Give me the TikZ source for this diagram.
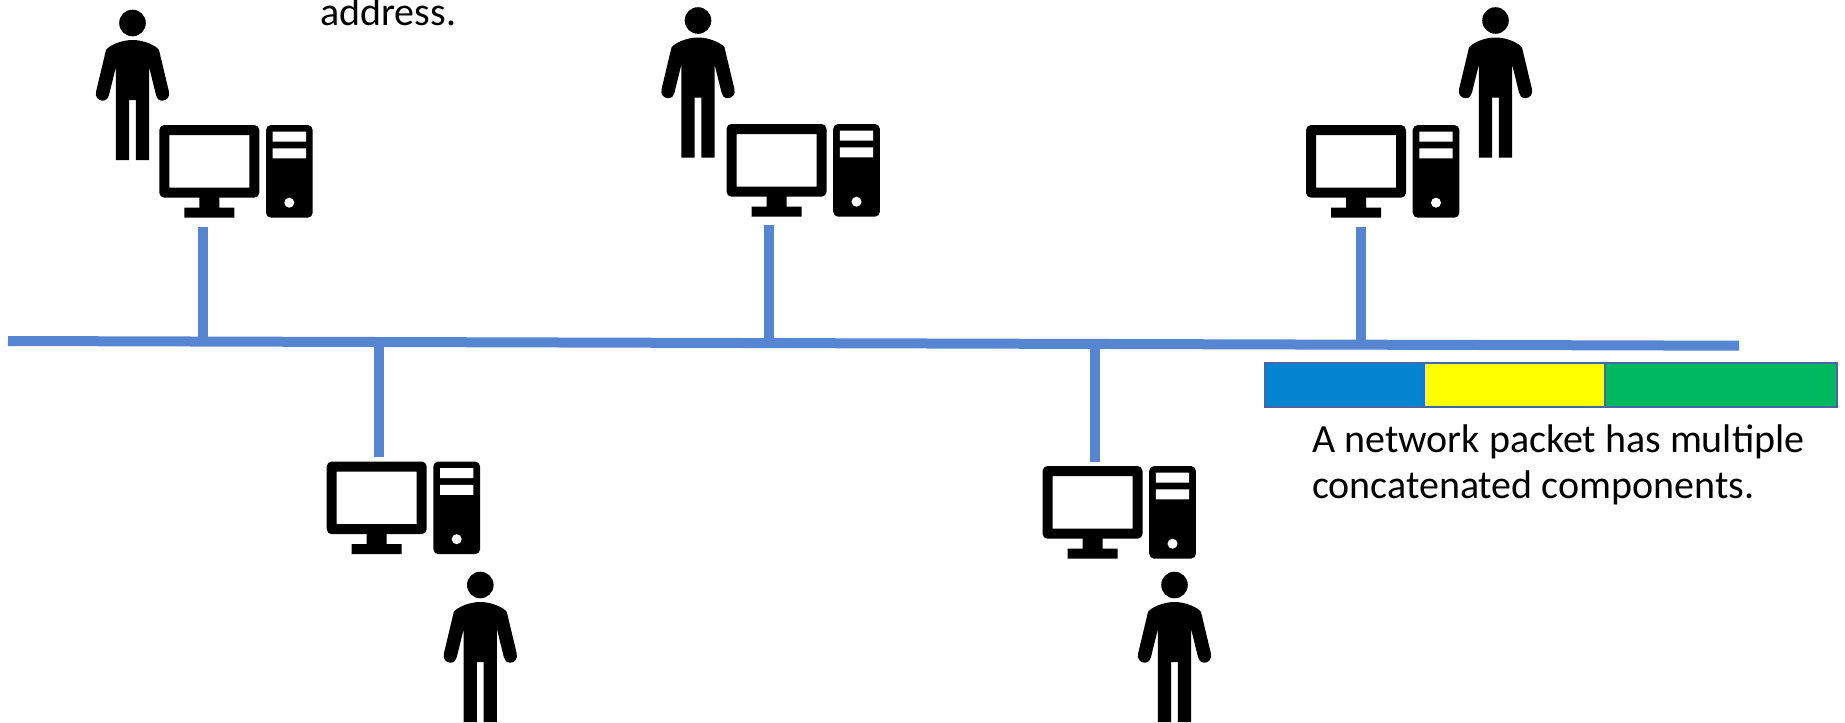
\documentclass[tikz,border=0pt]{standalone}
\usepackage{fontspec}
\setmainfont{Carlito}
\definecolor{wire}{HTML}{5686D1}
\definecolor{pktblue}{HTML}{0383D0}
\definecolor{pktyellow}{RGB}{255,255,0}
\definecolor{pktgreen}{HTML}{00B85F}
\definecolor{pktedge}{HTML}{4468A6}
\tikzset{
  wireline/.style={draw=wire,line width=10pt},
  cell/.style={draw=pktedge,line width=2.5pt,minimum height=44pt,inner sep=0pt,outer sep=0pt,anchor=north west},
  caption/.style={font=\fontsize{40}{46}\selectfont,align=left,inner sep=0pt,text=black},
  person/.pic={
    \fill[black] (0,0) circle (13.3);
    \fill[black] (-26.5,27) .. controls (-24,23) and (-12,17) .. (0,17)
      .. controls (12,17) and (24,23) .. (26.5,27)
      -- (36.3,68)
      .. controls (38,74) and (34,77.7) .. (30,77.7)
      .. controls (26,77.7) and (24,75) .. (23.5,72)
      -- (16.6,44) -- (16.6,137) -- (3.4,137) -- (3.4,77) -- (-3.4,77) -- (-3.4,137) -- (-16.6,137) -- (-16.6,44)
      -- (-23.5,72) .. controls (-24,75) and (-26,77.7) .. (-30,77.7)
      .. controls (-34,77.7) and (-38,74) .. (-36.3,68)
      -- cycle;
  },
  computer/.pic={
    \fill[black,even odd rule,rounded corners=5pt] (0,0) rectangle (100,72.7) (10,10) [sharp corners] rectangle (90,62.7);
    \fill[black] (40,72) rectangle (60,82.7) (25,82.7) rectangle (75,92.7);
    \fill[black,rounded corners=5pt] (106.7,0) rectangle (153.4,92.7);
    \fill[white] (113.4,6.7) rectangle (146.7,16.7) (113.4,23.3) rectangle (146.7,33.3) (130,77.7) circle (5);
  }
}
\begin{document}
\begin{tikzpicture}[x=1pt,y=-1pt]
\useasboundingbox (0,0) rectangle (1845,723);
\pic at (132.5,23) {person};
\pic at (698,20.5) {person};
\pic at (1495.5,20.5) {person};
\pic at (480.3,585) {person};
\pic at (1174.5,585) {person};
\pic at (159.3,125) {computer};
\pic at (726.5,124) {computer};
\pic at (1306,125) {computer};
\pic at (326.7,461.5) {computer};
\pic at (1042.5,466) {computer};
\coordinate (busL) at (8,341);
\coordinate (busR) at (1739,345.7);
\coordinate (a1) at (203.3,227); \coordinate (b1) at (203.3,341.5);
\coordinate (a2) at (768.5,225); \coordinate (b2) at (768.5,343);
\coordinate (a3) at (1360.5,227); \coordinate (b3) at (1360.5,345);
\coordinate (a4) at (379,457); \coordinate (b4) at (379,342);
\coordinate (a5) at (1094.5,462); \coordinate (b5) at (1094.5,344);
\draw[wireline] (busL) -- (busR);
\draw[wireline] (a1) -- (b1);
\draw[wireline] (a2) -- (b2);
\draw[wireline] (a3) -- (b3);
\draw[wireline] (a4) -- (b4);
\draw[wireline] (a5) -- (b5);
\node[cell,fill=pktblue,minimum width=159pt] (p1) at (1265,363.2) {};
\node[cell,fill=pktyellow,minimum width=181pt] (p2) at (p1.north east) {};
\node[cell,fill=pktgreen,minimum width=232pt] (p3) at (p2.north east) {};
\node[caption,anchor=base west] (t1) at (1312,452) {A network packet has multiple};
\node[caption,anchor=base west] (t2) at (1312,498) {concatenated components.};
\node[caption,anchor=base west] (t3) at (320,25) {address.};
\end{tikzpicture}
\end{document}
